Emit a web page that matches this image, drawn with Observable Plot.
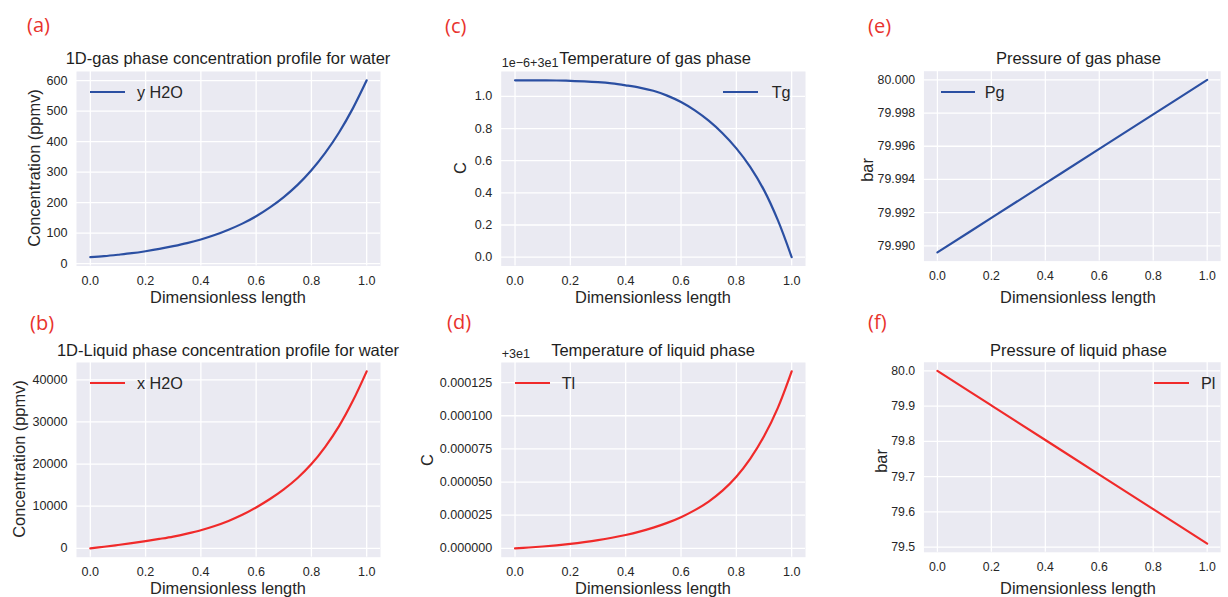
<!DOCTYPE html>
<html>
<head>
<meta charset="utf-8">
<script src="https://cdn.jsdelivr.net/npm/d3@7"></script>
<script src="https://cdn.jsdelivr.net/npm/@observablehq/plot@0.6"></script>
<style>
  html, body { margin: 0; padding: 0; background: #ffffff; }
  body { width: 1228px; height: 597px; overflow: hidden; position: relative;
         font-family: "Liberation Sans", Arial, sans-serif; }
  #root { position: absolute; left: 0; top: 0; width: 1228px; height: 597px; }
  .abs { position: absolute; white-space: nowrap; line-height: 1; }
  .panel svg { display: block; }
</style>
</head>
<body>
<div id="root"></div>
<script>
// ---------------- DATA ----------------
const xTicks = [0.0, 0.2, 0.4, 0.6, 0.8, 1.0];

// dimensionless length for the curved profiles
const xFine = [0, 0.05, 0.1, 0.15, 0.2, 0.25, 0.3, 0.35, 0.4, 0.45, 0.5,
               0.55, 0.6, 0.65, 0.7, 0.75, 0.8, 0.85, 0.9, 0.95, 1.0];
// (a) gas phase water, ppmv
const yH2O = [21, 24.5, 29, 34, 40.5, 48, 57, 67, 79, 93.5, 111,
              131, 155, 184, 218, 258, 306, 363, 430, 509, 601];
// (b) liquid phase water, ppmv
const xH2O = [0, 380, 800, 1230, 1700, 2230, 2800, 3500, 4300, 5300, 6500,
              7950, 9700, 11700, 14000, 16700, 20000, 24100, 29000, 35000, 42000];
// (c) gas temperature, offset in units of 1e-6 above 3e1 C
const tgMicro = [1.100, 1.100, 1.100, 1.099, 1.097, 1.094, 1.089, 1.081, 1.069, 1.055, 1.035,
                 1.005, 0.965, 0.913, 0.849, 0.771, 0.677, 0.562, 0.417, 0.230, 0.000];
// (d) liquid temperature, offset above 3e1 C
const tlOffset = [0.00000000, 0.00000065, 0.0000014, 0.0000023, 0.0000034, 0.0000047, 0.0000062,
                  0.0000080, 0.0000101, 0.0000126, 0.0000156, 0.0000192, 0.0000235, 0.0000288,
                  0.0000353, 0.0000435, 0.0000540, 0.0000675, 0.0000845, 0.0001060, 0.0001335];

// pressure profiles
const xLinear = [0.0, 0.2, 0.4, 0.6, 0.8, 1.0];
const pg = [79.9896, 79.99168, 79.99376, 79.99584, 79.99792, 80.0000];
const pl = [80.000, 79.902, 79.804, 79.706, 79.608, 79.510];

// tick labels
const ticksA = [0, 100, 200, 300, 400, 500, 600];
const ticksB = [0, 10000, 20000, 30000, 40000];
const ticksC = [0.0, 0.2, 0.4, 0.6, 0.8, 1.0];
const ticksD = [0.000000, 0.000025, 0.000050, 0.000075, 0.000100, 0.000125];
const ticksE = [79.990, 79.992, 79.994, 79.996, 79.998, 80.000];
const ticksF = [79.5, 79.6, 79.7, 79.8, 79.9, 80.0];

// text
const panelLetters = ["(a)", "(b)", "(c)", "(d)", "(e)", "(f)"];
const titles = ["1D-gas phase concentration profile for water",
                "1D-Liquid phase concentration profile for water",
                "Temperature of gas phase",
                "Temperature of liquid phase",
                "Pressure of gas phase",
                "Pressure of liquid phase"];
const yLabels = ["Concentration (ppmv)", "Concentration (ppmv)", "C", "C", "bar", "bar"];
const xLabel = "Dimensionless length";
const seriesNames = ["y H2O", "x H2O", "Tg", "Tl", "Pg", "Pl"];
const offsetTexts = {c: "1e\u22126+3e1", d: "+3e1"};

// ---------------- STYLE / LAYOUT ----------------
const BLUE = "#2b4fa2";
const RED = "#f02a2a";
const BG = "#eaeaf2";
const TXT = "#262626";
const LETTER = "#e8332d";
const FONT = "'Liberation Sans', Arial, sans-serif";

const root = document.getElementById("root");

function addText(str, x, y, opts = {}) {
  const d = document.createElement("div");
  d.className = "abs";
  d.textContent = str;
  d.style.left = x + "px";
  d.style.top = y + "px";
  d.style.fontSize = (opts.size || 16.4) + "px";
  d.style.color = opts.color || TXT;
  d.style.fontFamily = opts.family || FONT;
  const tx = opts.anchor === "start" ? "0" : "-50%";
  d.style.transform = `translate(${tx},-50%)` + (opts.rotate ? ` rotate(${opts.rotate}deg)` : "");
  root.appendChild(d);
  return d;
}

function addLegend(name, color, x1, x2, y, textX) {
  const l = document.createElement("div");
  l.className = "abs";
  l.style.left = x1 + "px";
  l.style.top = (y - 1) + "px";
  l.style.width = (x2 - x1) + "px";
  l.style.height = "2px";
  l.style.background = color;
  root.appendChild(l);
  addText(name, textX, y, {anchor: "start", size: 16.2});
}

function pad5(arr) {
  const [lo, hi] = d3.extent(arr);
  const r = hi - lo;
  return [lo - 0.05 * r, hi + 0.05 * r];
}

function makePanel(p) {
  const data = p.xs.map((x, i) => ({x, y: p.ys[i]}));
  const chart = Plot.plot({
    width: p.width,
    height: p.height,
    marginLeft: p.mL,
    marginRight: p.mR,
    marginTop: p.mT,
    marginBottom: p.mB,
    style: {fontFamily: FONT, fontSize: "12.6px", color: TXT, background: "transparent", overflow: "visible"},
    x: {domain: [-0.05, 1.05], ticks: xTicks, tickFormat: d3.format(".1f"), tickSize: 0, tickPadding: 10, label: null},
    y: {domain: pad5(p.ys), ticks: p.yTicks, tickFormat: p.fmt, tickSize: 0, tickPadding: 9, label: null},
    marks: [
      Plot.frame({fill: BG, stroke: "none"}),
      Plot.ruleX(xTicks, {stroke: "#ffffff", strokeWidth: 1.3}),
      Plot.ruleY(p.yTicks, {stroke: "#ffffff", strokeWidth: 1.3}),
      Plot.line(data, {x: "x", y: "y", stroke: p.color, strokeWidth: 2.2, curve: "catmull-rom"})
    ]
  });
  const wrap = document.createElement("div");
  wrap.className = "abs panel";
  wrap.style.left = p.left + "px";
  wrap.style.top = p.top + "px";
  wrap.appendChild(chart);
  root.appendChild(wrap);
}

// columns: svg left, width, frame left/right ; rows: svg top, height, frame top/bottom
const cols = [
  {left: 0,   width: 409, fl: 76,    fr: 380},
  {left: 410, width: 409, fl: 500.7, fr: 805},
  {left: 818, width: 420, fl: 926,   fr: 1230}
];
const rows = [
  {top: 60,  height: 240, ft: 71,  fb: 265.5},
  {top: 352, height: 245, ft: 362, fb: 556.7}
];

const specs = [
  {col: 0, row: 0, xs: xFine,   ys: yH2O,     yTicks: ticksA, fmt: d3.format("d"),   color: BLUE},
  {col: 0, row: 1, xs: xFine,   ys: xH2O,     yTicks: ticksB, fmt: d3.format("d"),   color: RED},
  {col: 1, row: 0, xs: xFine,   ys: tgMicro,  yTicks: ticksC, fmt: d3.format(".1f"), color: BLUE},
  {col: 1, row: 1, xs: xFine,   ys: tlOffset, yTicks: ticksD, fmt: d3.format(".6f"), color: RED},
  {col: 2, row: 0, xs: xLinear, ys: pg,       yTicks: ticksE, fmt: d3.format(".3f"), color: BLUE},
  {col: 2, row: 1, xs: xLinear, ys: pl,       yTicks: ticksF, fmt: d3.format(".1f"), color: RED}
];

specs.forEach(s => {
  const c = cols[s.col], r = rows[s.row];
  makePanel(Object.assign({}, s, {
    left: c.left, top: r.top, width: c.width, height: r.height,
    mL: c.fl - c.left, mR: c.left + c.width - c.fr,
    mT: r.ft - r.top, mB: r.top + r.height - r.fb
  }));
});

// panel letters
const letterPos = [[27, 25], [30, 322.5], [445, 26], [447, 322], [868, 25.5], [868, 322]];
panelLetters.forEach((t, i) => addText(t, letterPos[i][0], letterPos[i][1],
  {anchor: "start", size: 20, color: LETTER, family: "'Open Sans', 'Noto Sans', sans-serif"}));

// titles
const titlePos = [[228, 58], [228, 349.5], [655, 58], [653, 349.5], [1078.5, 58], [1078.5, 349.5]];
titles.forEach((t, i) => addText(t, titlePos[i][0], titlePos[i][1], {size: 16.5, color: "#1e1e1e"}));

// x axis labels
[[228, 296.5], [228, 587.5], [653, 296.5], [653, 587.5], [1078, 296.5], [1078, 587.5]]
  .forEach(([x, y]) => addText(xLabel, x, y, {size: 16.4}));

// y axis labels
const yLabPos = [[34, 168], [18.5, 459], [460, 167.5], [427, 460], [866.5, 169.5], [881, 461]];
yLabels.forEach((t, i) => addText(t, yLabPos[i][0], yLabPos[i][1], {size: 16.4, rotate: -90}));

// offset texts
addText(offsetTexts.c, 501.7, 63.3, {anchor: "start", size: 12.6});
addText(offsetTexts.d, 501.7, 354, {anchor: "start", size: 12.6});

// legends
addLegend(seriesNames[0], BLUE, 90, 125, 91.7, 137);
addLegend(seriesNames[1], RED, 90, 125, 383.3, 137);
addLegend(seriesNames[2], BLUE, 723, 758, 92.3, 771.7);
addLegend(seriesNames[3], RED, 515, 550, 383.3, 561.7);
addLegend(seriesNames[4], BLUE, 941, 975, 92.3, 984.7);
addLegend(seriesNames[5], RED, 1154, 1189, 383.3, 1201);
</script>
</body>
</html>
